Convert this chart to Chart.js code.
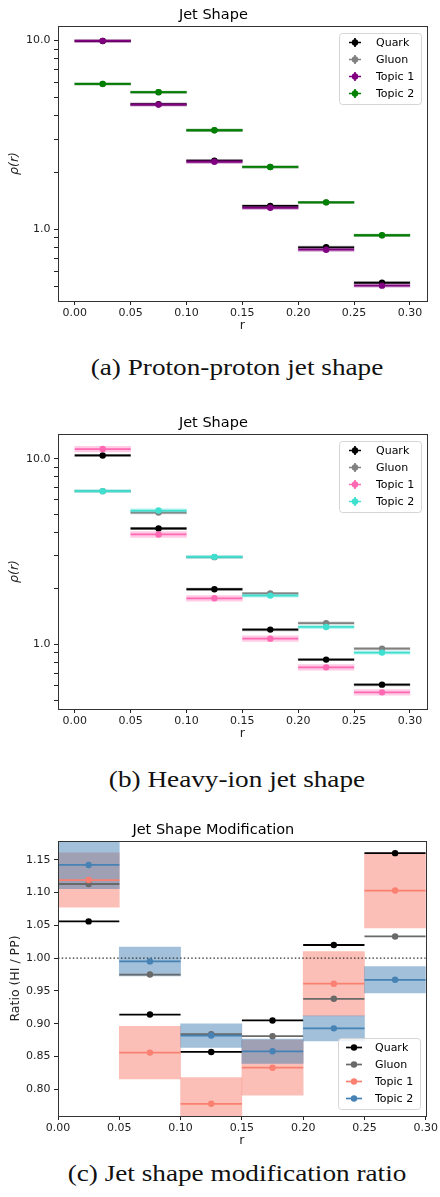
<!DOCTYPE html>
<html>
<head>
<meta charset="utf-8">
<script src="https://cdn.jsdelivr.net/npm/chart.js@4.4.1/dist/chart.umd.min.js"></script>
<style>
  body { margin: 0; background: #fff; }
  #fig { position: relative; width: 440px; height: 1197px; overflow: hidden; }
  canvas { position: absolute; left: 0; }
  .caption {
    position: absolute; left: 0; width: 474px; text-align: center;
    font-family: "Liberation Serif", serif; font-size: 22.7px; line-height: 1;
    color: #111; white-space: nowrap;
    transform: scaleX(1.2); transform-origin: 237px 0;
  }
</style>
</head>
<body>
<div id="fig">
  <canvas id="chartPP" width="440" height="345" style="top:0px"></canvas>
  <div class="caption" style="top:357px">(a) Proton-proton jet shape</div>
  <canvas id="chartHI" width="440" height="345" style="top:408px"></canvas>
  <div class="caption" style="top:769px">(b) Heavy-ion jet shape</div>
  <canvas id="chartRatio" width="440" height="345" style="top:815px"></canvas>
  <div class="caption" style="top:1163px">(c) Jet shape modification ratio</div>
</div>
<script>
// === DADOS ===
const binEdges = [0.00, 0.05, 0.10, 0.15, 0.20, 0.25, 0.30];
const binCenters = [0.025, 0.075, 0.125, 0.175, 0.225, 0.275];
const xTicks = [0.00, 0.05, 0.10, 0.15, 0.20, 0.25, 0.30];
const logTicks = [0.5, 0.6, 0.7, 0.8, 0.9, 1, 2, 3, 4, 5, 6, 7, 8, 9, 10];
const ratioTicks = [0.80, 0.85, 0.90, 0.95, 1.00, 1.05, 1.10, 1.15];
const seriesNames = ["Quark", "Gluon", "Topic 1", "Topic 2"];

// (a) proton-proton
const ppQuark = [9.95, 4.60, 2.31, 1.33, 0.803, 0.521];
const ppGluon = [5.89, 5.32, 3.35, 2.14, 1.39, 0.929];
const ppTopic1 = [9.97, 4.58, 2.28, 1.30, 0.780, 0.503];
const ppTopic2 = [5.90, 5.33, 3.35, 2.14, 1.39, 0.930];
const ppQuarkErr = [0.15, 0.07, 0.035, 0.02, 0.012, 0.008];
const ppGluonErr = [0.08, 0.07, 0.045, 0.03, 0.019, 0.013];
const ppTopic1Err = [0.20, 0.09, 0.045, 0.026, 0.016, 0.010];
const ppTopic2Err = [0.08, 0.07, 0.045, 0.03, 0.019, 0.013];

// (b) heavy-ion
const hiQuark = [10.42, 4.21, 1.98, 1.20, 0.827, 0.606];
const hiGluon = [6.69, 5.13, 2.95, 1.88, 1.30, 0.948];
const hiTopic1 = [11.28, 3.91, 1.77, 1.073, 0.751, 0.551];
const hiTopic2 = [6.69, 5.26, 2.96, 1.83, 1.24, 0.902];
const hiQuarkErr = [0.16, 0.065, 0.03, 0.018, 0.012, 0.009];
const hiGluonErr = [0.10, 0.08, 0.045, 0.028, 0.020, 0.014];
const hiTopic1Err = [0.40, 0.14, 0.062, 0.038, 0.026, 0.019];
const hiTopic2Err = [0.13, 0.105, 0.06, 0.037, 0.025, 0.018];

// (c) razão HI / PP
const ratioQuark = [1.056, 0.914, 0.857, 0.905, 1.020, 1.160];
const ratioGluon = [1.113, 0.975, 0.884, 0.881, 0.938, 1.033];
const ratioTopic1 = [1.119, 0.856, 0.778, 0.833, 0.961, 1.103];
const ratioTopic2 = [1.142, 0.995, 0.882, 0.858, 0.893, 0.967];
const ratioTopic1Err = [0.0415, 0.040, 0.040, 0.042, 0.049, 0.057];
const ratioTopic2Err = [0.036, 0.022, 0.018, 0.0186, 0.019, 0.020];
const ratioRef = [1.0, 1.0];

const FONT = '"DejaVu Sans", sans-serif';
const AXIS_COLOR = "#222";

// pontos de cada bin: borda, centro (marcador), borda, quebra
function stepPoints(values) {
  const pts = [];
  values.forEach((v, i) => {
    pts.push({ x: binEdges[i], y: v }, { x: binCenters[i], y: v },
             { x: binEdges[i + 1], y: v }, { x: binEdges[i + 1], y: null });
  });
  return pts;
}

function lineSet(label, values, color, order) {
  return {
    type: "line", label, data: stepPoints(values),
    borderColor: color, backgroundColor: color, borderWidth: 1.8,
    pointRadius: c => (c.dataIndex % 4 === 1 ? 3.2 : 0),
    pointHoverRadius: 0, pointBorderWidth: 0,
    spanGaps: false, fill: false, tension: 0, order
  };
}

// faixa de incerteza como barra flutuante de largura igual ao bin
function bandSet(values, errs, color, order) {
  return {
    type: "bar",
    data: values.map((v, i) => ({ x: binCenters[i], y: [v - errs[i], v + errs[i]] })),
    backgroundColor: color, borderWidth: 0, grouped: false,
    barPercentage: 1, categoryPercentage: 1, order
  };
}

// moldura dos eixos + legenda ao estilo matplotlib
const framePlugin = {
  id: "frameLegend",
  afterDatasetsDraw(chart, args, opts) {
    const ctx = chart.ctx, a = chart.chartArea;
    ctx.save();
    ctx.strokeStyle = "#333";
    ctx.lineWidth = 1;
    ctx.strokeRect(Math.round(a.left) + 0.5, Math.round(a.top) + 0.5,
                   Math.round(a.right - a.left), Math.round(a.bottom - a.top));

    const items = chart.data.datasets.filter(d => d.type === "line" && d.label);
    const w = 82, h = 71;
    const x0 = Math.round(a.right - 6 - w);
    const y0 = Math.round(opts.corner === "bottom" ? a.bottom - 7 - h : a.top + 7);
    ctx.beginPath();
    if (ctx.roundRect) ctx.roundRect(x0 + 0.5, y0 + 0.5, w, h, 3);
    else ctx.rect(x0 + 0.5, y0 + 0.5, w, h);
    ctx.fillStyle = "rgba(255,255,255,0.8)";
    ctx.fill();
    ctx.strokeStyle = "#d5d5d5";
    ctx.stroke();

    items.forEach((d, i) => {
      const cy = y0 + 9.5 + i * 17, cx = x0 + 16;
      ctx.strokeStyle = d.borderColor;
      ctx.fillStyle = d.borderColor;
      ctx.lineWidth = 1.7;
      ctx.beginPath();
      if (opts.errorbar) {
        ctx.moveTo(cx - 6, cy); ctx.lineTo(cx + 6, cy);
        ctx.moveTo(cx, cy - 4.5); ctx.lineTo(cx, cy + 4.5);
      } else {
        ctx.moveTo(cx - 8, cy); ctx.lineTo(cx + 8, cy);
      }
      ctx.stroke();
      ctx.beginPath();
      ctx.arc(cx, cy, 3.2, 0, Math.PI * 2);
      ctx.fill();
      ctx.fillStyle = "#000";
      ctx.font = "11px " + FONT;
      ctx.textBaseline = "middle";
      ctx.fillText(d.label, x0 + 37, cy + 0.5);
    });
    ctx.restore();
  }
};

function tickGrid() {
  return { display: true, drawOnChartArea: false, drawTicks: true, tickLength: 4, color: AXIS_COLOR, offset: false };
}

function xScale(min, max) {
  return {
    type: "linear", min, max, offset: false,
    afterBuildTicks: s => { s.ticks = xTicks.map(v => ({ value: v })); },
    afterFit: s => { s.height = 44; },
    grid: tickGrid(), border: { display: false },
    ticks: { callback: v => v.toFixed(2), font: { family: FONT, size: 11 }, color: AXIS_COLOR,
             padding: 2, maxRotation: 0, autoSkip: false },
    title: { display: true, text: "r", color: AXIS_COLOR, font: { family: FONT, size: 12.5 },
             padding: { top: 0, bottom: 11.5 } }
  };
}

function yScale(extra) {
  return Object.assign({
    afterFit: s => { s.width = 58; },
    grid: tickGrid(), border: { display: false }
  }, extra);
}

function makeChart(id, cfg) {
  return new Chart(document.getElementById(id), {
    type: "line",
    data: { datasets: cfg.datasets },
    plugins: [framePlugin],
    options: {
      responsive: false, animation: false, events: [],
      devicePixelRatio: 1,
      layout: { padding: { left: 0, right: 13.3, top: 0, bottom: 0 } },
      plugins: {
        legend: { display: false }, tooltip: { enabled: false },
        title: { display: true, text: cfg.title, color: "#000",
                 font: { family: FONT, size: 14.5, weight: "normal" },
                 padding: { top: 7, bottom: 1.6 } },
        frameLegend: cfg.legend
      },
      scales: { x: cfg.x, y: cfg.y }
    }
  });
}

function logY() {
  return yScale({
    type: "logarithmic",
    afterBuildTicks: s => { s.ticks = logTicks.filter(v => v >= s.min && v <= s.max).map(v => ({ value: v })); },
    ticks: { callback: v => (v === 1 ? "1.0" : v === 10 ? "10.0" : ""), font: { family: FONT, size: 11 },
             color: AXIS_COLOR, padding: 3.5, autoSkip: false },
    title: { display: true, text: "ρ(r)", color: AXIS_COLOR,
             font: { family: FONT, size: 12.5, style: "italic" }, padding: { top: 7.5, bottom: 0 } }
  });
}

// (a)
const ppColors = ["#000000", "#808080", "#800080", "#008000"];
const ppBandColors = ["rgba(0,0,0,0.3)", "rgba(128,128,128,0.35)", "rgba(128,0,128,0.35)", "rgba(0,128,0,0.35)"];
const ppVals = [ppQuark, ppGluon, ppTopic1, ppTopic2];
const ppErrs = [ppQuarkErr, ppGluonErr, ppTopic1Err, ppTopic2Err];
const ppSets = [];
ppVals.forEach((v, i) => {
  ppSets.push(bandSet(v, ppErrs[i], ppBandColors[i], 20 - 2 * i));
  ppSets.push(lineSet(seriesNames[i], v, ppColors[i], 19 - 2 * i));
});
makeChart("chartPP", {
  title: "Jet Shape", datasets: ppSets,
  x: xScale(-0.015, 0.315),
  y: Object.assign(logY(), { min: 0.417, max: 11.95 }),
  legend: { corner: "top", errorbar: true }
});

// (b)
const hiColors = ["#000000", "#808080", "#ff69b4", "#40e0d0"];
const hiBandColors = ["rgba(0,0,0,0.3)", "rgba(128,128,128,0.35)", "rgba(255,105,180,0.35)", "rgba(64,224,208,0.35)"];
const hiVals = [hiQuark, hiGluon, hiTopic1, hiTopic2];
const hiErrs = [hiQuarkErr, hiGluonErr, hiTopic1Err, hiTopic2Err];
const hiSets = [];
hiVals.forEach((v, i) => {
  hiSets.push(bandSet(v, hiErrs[i], hiBandColors[i], 20 - 2 * i));
  hiSets.push(lineSet(seriesNames[i], v, hiColors[i], 19 - 2 * i));
});
makeChart("chartHI", {
  title: "Jet Shape", datasets: hiSets,
  x: xScale(-0.015, 0.315),
  y: Object.assign(logY(), { min: 0.448, max: 13.6 }),
  legend: { corner: "top", errorbar: true }
});

// (c)
const ratioColors = ["#000000", "#696969", "#fa8072", "#4682b4"];
const ratioVals = [ratioQuark, ratioGluon, ratioTopic1, ratioTopic2];
const ratioSets = [
  bandSet(ratioTopic1, ratioTopic1Err, "rgba(250,128,114,0.5)", 31),
  bandSet(ratioTopic2, ratioTopic2Err, "rgba(70,130,180,0.5)", 30),
  { type: "line", data: [{ x: 0, y: ratioRef[0] }, { x: 0.3, y: ratioRef[1] }], borderColor: "#333",
    borderWidth: 1.2, borderDash: [1.5, 2.2], pointRadius: 0, fill: false, order: 25 }
];
ratioVals.forEach((v, i) => ratioSets.push(lineSet(seriesNames[i], v, ratioColors[i], 19 - i)));
makeChart("chartRatio", {
  title: "Jet Shape Modification", datasets: ratioSets,
  x: xScale(0, 0.3),
  y: yScale({
    type: "linear", min: 0.7594, max: 1.1785,
    afterBuildTicks: s => { s.ticks = ratioTicks.map(v => ({ value: v })); },
    ticks: { callback: v => v.toFixed(2), font: { family: FONT, size: 11 }, color: AXIS_COLOR,
             padding: 3.5, autoSkip: false },
    title: { display: true, text: "Ratio (HI / PP)", color: AXIS_COLOR,
             font: { family: FONT, size: 12.5 }, padding: { top: 8.5, bottom: 0 } }
  }),
  legend: { corner: "bottom", errorbar: false }
});
</script>
</body>
</html>
